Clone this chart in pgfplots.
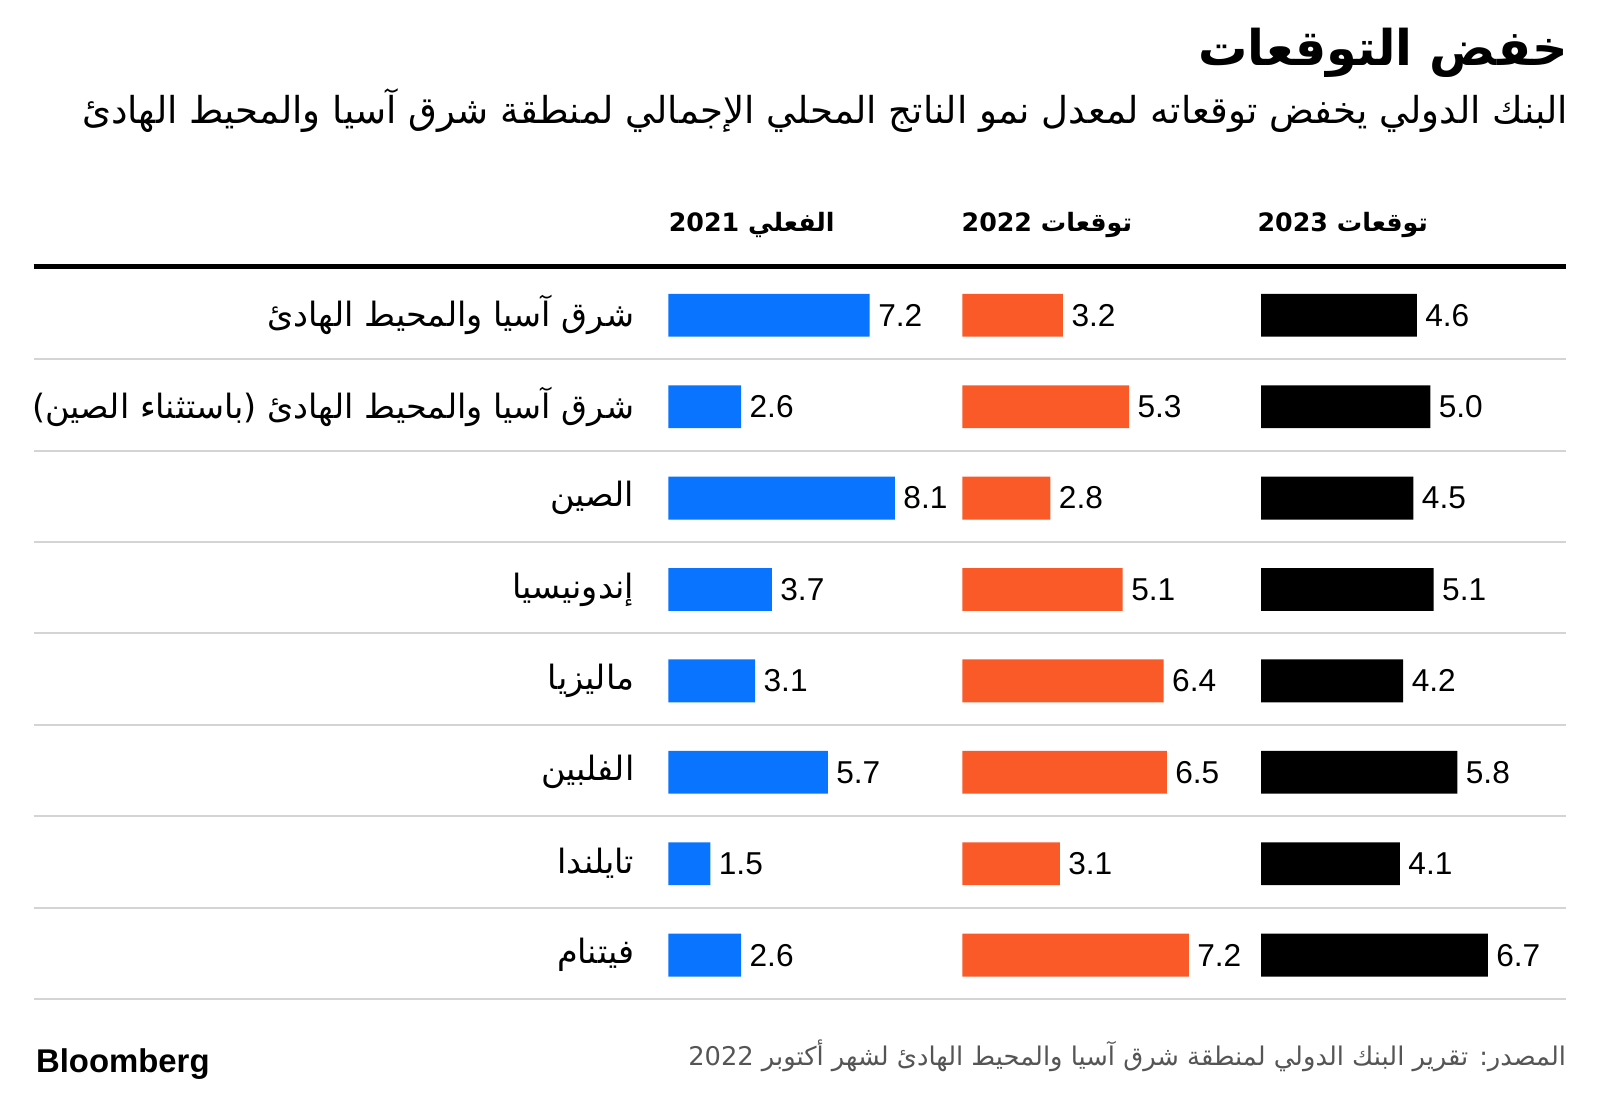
\documentclass[border=0pt]{standalone}
\usepackage{pgfplots}
\pgfplotsset{compat=1.18}
\usepackage{pgfplotstable}
\usepackage{fontspec}
\setmainfont{Liberation Sans}
\newfontfamily\arabicfont[Script=Arabic]{DejaVu Sans}
\newfontfamily\numfont{Liberation Sans}
\TeXXeTstate=1
\definecolor{cblue}{RGB}{8,116,255}
\definecolor{corange}{RGB}{250,90,40}
\definecolor{sepgray}{RGB}{212,212,212}
\definecolor{footgray}{RGB}{85,85,85}

\pgfplotstableread{
row v21 v22 v23
0 7.2 3.2 4.6
1 2.6 5.3 5.0
2 8.1 2.8 4.5
3 3.7 5.1 5.1
4 3.1 6.4 4.2
5 5.7 6.5 5.8
6 1.5 3.1 4.1
7 2.6 7.2 6.7
}\datatable

\pgfplotsset{colstyle/.style={
  scale only axis, width=111pt, height=358.3pt,
  xmin=0, ymin=-0.5, ymax=7.5, y dir=reverse,
  xbar, bar width=21pt, bar shift=0pt,
  axis line style={draw=none}, major tick length=0pt,
  xtick=\empty, ytick=\empty,
  clip=false, anchor=north west,
  /pgf/number format/assume math mode=true,
  point meta=x,
  nodes near coords={\pgfmathprintnumber[fixed,precision=1,fixed zerofill]{\pgfplotspointmeta}},
  nodes near coords style={font=\numfont\fontsize{15.5}{18}\selectfont, anchor=west, inner sep=2pt, xshift=2pt, text=black},
}}

\begin{document}
\begin{tikzpicture}[x=0.5pt,y=-0.5pt]
\useasboundingbox (0,0) rectangle (1568,1075);
\coordinate (A1) at (655,264.2);
\coordinate (A2) at (943,264.2);
\coordinate (A3) at (1236,264.2);

% title and subtitle
\node[anchor=east, inner sep=0pt] at (1537,52) {\resizebox{181pt}{!}{{\arabicfont\bfseries\beginR خفض التوقعات\endR}}};
\node[anchor=east, inner sep=0pt] at (1537,108) {\resizebox{728pt}{!}{{\arabicfont\beginR البنك الدولي يخفض توقعاته لمعدل نمو الناتج المحلي الإجمالي لمنطقة شرق آسيا والمحيط الهادئ\endR}}};

% column headers
\node[anchor=west, inner sep=0pt] at (655,220) {\fontsize{12.4}{15}\selectfont{\arabicfont\bfseries\beginR الفعلي 2021\endR}};
\node[anchor=west, inner sep=0pt] at (942,220) {\fontsize{12.4}{15}\selectfont{\arabicfont\bfseries\beginR توقعات 2022\endR}};
\node[anchor=west, inner sep=0pt] at (1232,220) {\fontsize{12.4}{15}\selectfont{\arabicfont\bfseries\beginR توقعات 2023\endR}};

% rules
\draw[line width=2.5pt, black] (33,261) -- (1535,261);
\foreach \k in {0,...,7} {
  \draw[line width=1pt, sepgray] (33,{352+89.57*\k}) -- (1535,{352+89.57*\k});
}

% 2021 actual
\begin{axis}[colstyle, at={(A1)}, xmax=8.1,
  ytick={0,...,7},
  yticklabels={
    {\arabicfont\beginR شرق آسيا والمحيط الهادئ\endR},
    {\arabicfont\beginR شرق آسيا والمحيط الهادئ (باستثناء الصين)\endR},
    {\arabicfont\beginR الصين\endR},
    {\arabicfont\beginR إندونيسيا\endR},
    {\arabicfont\beginR ماليزيا\endR},
    {\arabicfont\beginR الفلبين\endR},
    {\arabicfont\beginR تايلندا\endR},
    {\arabicfont\beginR فيتنام\endR}},
  yticklabel style={font=\fontsize{16.4}{19}\selectfont, anchor=east, inner sep=0pt, xshift=-16.5pt},
]
\addplot[fill=cblue, draw=none] table[x=v21, y=row] {\datatable};
\end{axis}

% 2022 forecast
\begin{axis}[colstyle, at={(A2)}, xmax=7.2]
\addplot[fill=corange, draw=none] table[x=v22, y=row] {\datatable};
\end{axis}

% 2023 forecast
\begin{axis}[colstyle, at={(A3)}, xmax=6.7]
\addplot[fill=black, draw=none] table[x=v23, y=row] {\datatable};
\end{axis}

% footer
\node[anchor=east, inner sep=0pt, text=footgray] at (1535,1035) {\resizebox{430pt}{!}{{\arabicfont\beginR المصدر: تقرير البنك الدولي لمنطقة شرق آسيا والمحيط الهادئ لشهر أكتوبر 2022\endR}}};
\node[anchor=west, inner sep=0pt] at (35,1043) {\resizebox{85pt}{!}{\bfseries Bloomberg}};
\end{tikzpicture}
\end{document}
